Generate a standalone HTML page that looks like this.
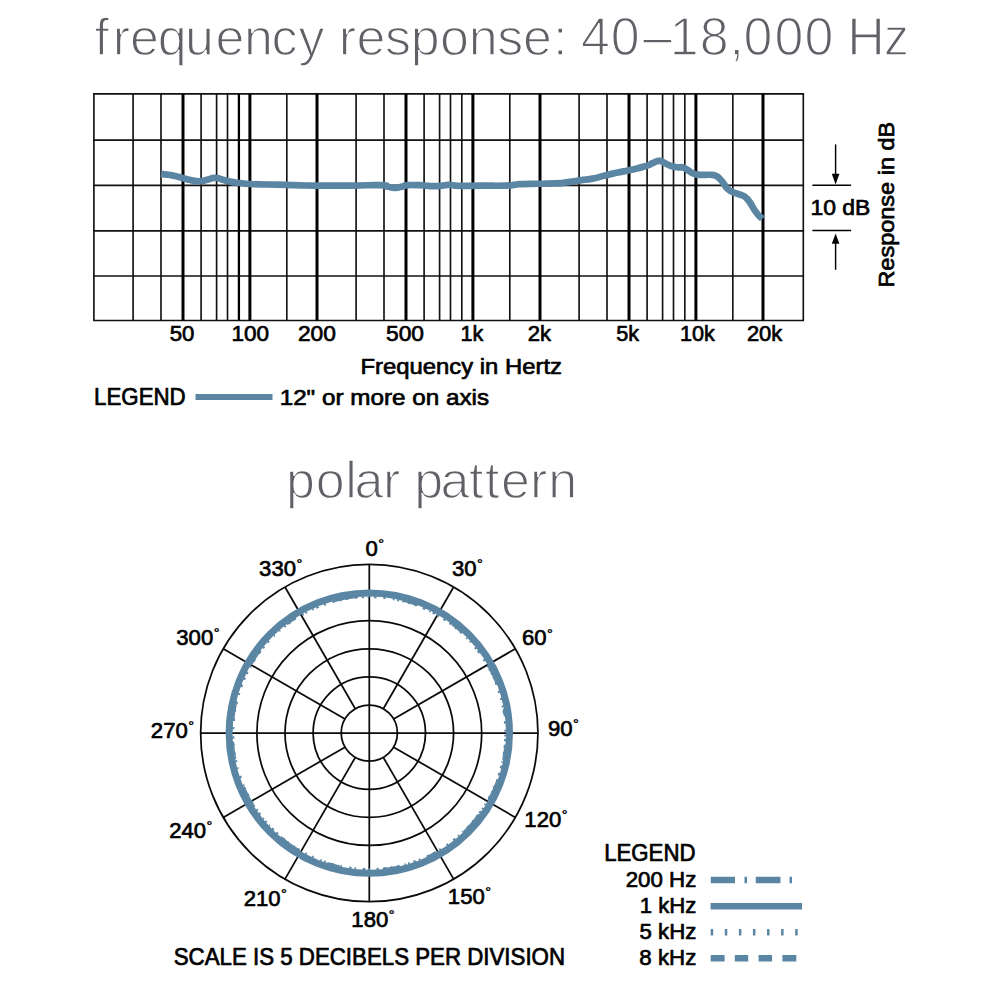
<!DOCTYPE html>
<html lang="en"><head><meta charset="utf-8"><title>frequency response and polar pattern</title>
<style>html,body{margin:0;padding:0;background:#fff}svg{display:block}</style></head>
<body><svg width="1000" height="1000" viewBox="0 0 1000 1000">
<rect width="1000" height="1000" fill="#fff"/>
<g stroke="#111" fill="none">
<line x1="93.15" y1="93.80" x2="804.05" y2="93.80" stroke-width="1.7"/>
<line x1="93.15" y1="140.10" x2="804.05" y2="140.10" stroke-width="1.7"/>
<line x1="93.15" y1="185.40" x2="804.05" y2="185.40" stroke-width="1.7"/>
<line x1="93.15" y1="230.80" x2="804.05" y2="230.80" stroke-width="1.7"/>
<line x1="93.15" y1="276.00" x2="804.05" y2="276.00" stroke-width="1.7"/>
<line x1="93.15" y1="320.50" x2="804.05" y2="320.50" stroke-width="1.7"/>
<line x1="93.90" y1="93.80" x2="93.90" y2="320.50" stroke-width="1.65"/>
<line x1="133.10" y1="93.80" x2="133.10" y2="320.50" stroke-width="1.65"/>
<line x1="161.00" y1="93.80" x2="161.00" y2="320.50" stroke-width="1.65"/>
<line x1="201.10" y1="93.80" x2="201.10" y2="320.50" stroke-width="1.65"/>
<line x1="216.60" y1="93.80" x2="216.60" y2="320.50" stroke-width="1.65"/>
<line x1="227.50" y1="93.80" x2="227.50" y2="320.50" stroke-width="1.65"/>
<line x1="286.80" y1="93.80" x2="286.80" y2="320.50" stroke-width="1.65"/>
<line x1="356.10" y1="93.80" x2="356.10" y2="320.50" stroke-width="1.65"/>
<line x1="384.00" y1="93.80" x2="384.00" y2="320.50" stroke-width="1.65"/>
<line x1="424.10" y1="93.80" x2="424.10" y2="320.50" stroke-width="1.65"/>
<line x1="439.60" y1="93.80" x2="439.60" y2="320.50" stroke-width="1.65"/>
<line x1="450.50" y1="93.80" x2="450.50" y2="320.50" stroke-width="1.65"/>
<line x1="461.80" y1="93.80" x2="461.80" y2="320.50" stroke-width="1.65"/>
<line x1="509.80" y1="93.80" x2="509.80" y2="320.50" stroke-width="1.65"/>
<line x1="579.10" y1="93.80" x2="579.10" y2="320.50" stroke-width="1.65"/>
<line x1="607.00" y1="93.80" x2="607.00" y2="320.50" stroke-width="1.65"/>
<line x1="647.10" y1="93.80" x2="647.10" y2="320.50" stroke-width="1.65"/>
<line x1="662.60" y1="93.80" x2="662.60" y2="320.50" stroke-width="1.65"/>
<line x1="673.50" y1="93.80" x2="673.50" y2="320.50" stroke-width="1.65"/>
<line x1="684.80" y1="93.80" x2="684.80" y2="320.50" stroke-width="1.65"/>
<line x1="732.80" y1="93.80" x2="732.80" y2="320.50" stroke-width="1.65"/>
<line x1="803.30" y1="93.80" x2="803.30" y2="320.50" stroke-width="1.65"/>
<line x1="238.90" y1="93.80" x2="238.90" y2="320.50" stroke-width="2.3" stroke="#000"/>
<line x1="183.00" y1="93.80" x2="183.00" y2="320.50" stroke-width="3.0" stroke="#000"/>
<line x1="249.90" y1="93.80" x2="249.90" y2="320.50" stroke-width="3.0" stroke="#000"/>
<line x1="317.00" y1="93.80" x2="317.00" y2="320.50" stroke-width="3.0" stroke="#000"/>
<line x1="406.00" y1="93.80" x2="406.00" y2="320.50" stroke-width="3.0" stroke="#000"/>
<line x1="472.90" y1="93.80" x2="472.90" y2="320.50" stroke-width="3.0" stroke="#000"/>
<line x1="540.00" y1="93.80" x2="540.00" y2="320.50" stroke-width="3.0" stroke="#000"/>
<line x1="629.00" y1="93.80" x2="629.00" y2="320.50" stroke-width="3.0" stroke="#000"/>
<line x1="695.90" y1="93.80" x2="695.90" y2="320.50" stroke-width="3.0" stroke="#000"/>
<line x1="763.00" y1="93.80" x2="763.00" y2="320.50" stroke-width="3.0" stroke="#000"/>
</g>
<path d="M161.00,174.00 C163.00,174.20 162.67,174.00 167.00,174.60 C171.33,175.20 169.67,174.93 174.00,175.80 C178.33,176.67 176.00,176.13 180.00,177.20 C184.00,178.27 182.00,177.93 186.00,179.00 C190.00,180.07 188.33,179.70 192.00,180.40 C195.67,181.10 193.67,180.90 197.00,181.10 C200.33,181.30 198.33,181.53 202.00,181.00 C205.67,180.47 203.67,180.57 208.00,179.50 C212.33,178.43 210.33,177.80 215.00,177.80 C219.67,177.80 217.00,178.23 222.00,179.50 C227.00,180.77 224.00,180.43 230.00,181.60 C236.00,182.77 233.33,182.20 240.00,183.00 C246.67,183.80 240.67,183.50 250.00,184.00 C259.33,184.50 256.00,184.23 268.00,184.50 C280.00,184.77 275.33,184.53 286.00,184.80 C296.67,185.07 290.00,185.03 300.00,185.30 C310.00,185.57 299.33,185.50 316.00,185.60 C332.67,185.70 328.67,185.73 350.00,185.60 C371.33,185.47 367.33,184.80 380.00,185.20 C392.67,185.60 383.00,185.93 388.00,186.80 C393.00,187.67 390.33,187.87 395.00,187.80 C399.67,187.73 397.67,187.47 402.00,186.60 C406.33,185.73 402.00,185.67 408.00,185.20 C414.00,184.73 413.33,185.00 420.00,185.20 C426.67,185.40 422.67,185.47 428.00,185.80 C433.33,186.13 431.33,186.27 436.00,186.20 C440.67,186.13 438.00,186.03 442.00,185.60 C446.00,185.17 444.00,184.97 448.00,184.90 C452.00,184.83 450.00,185.10 454.00,185.40 C458.00,185.70 451.33,185.70 460.00,185.80 C468.67,185.90 464.67,185.77 480.00,185.70 C495.33,185.63 494.67,185.90 506.00,185.60 C517.33,185.30 509.33,185.27 514.00,184.80 C518.67,184.33 514.67,184.50 520.00,184.20 C525.33,183.90 518.33,184.17 530.00,183.90 C541.67,183.63 542.33,183.97 555.00,183.40 C567.67,182.83 559.67,183.20 568.00,182.20 C576.33,181.20 571.83,181.60 580.00,180.40 C588.17,179.20 584.17,180.27 592.50,178.60 C600.83,176.93 596.50,177.43 605.00,175.40 C613.50,173.37 609.67,174.30 618.00,172.50 C626.33,170.70 621.00,172.07 630.00,170.00 C639.00,167.93 637.50,168.57 645.00,166.30 C652.50,164.03 648.67,164.83 652.50,163.20 C656.33,161.57 654.17,162.20 656.50,161.40 C658.83,160.60 657.50,160.67 659.50,160.80 C661.50,160.93 660.00,160.67 662.50,161.80 C665.00,162.93 663.50,162.60 667.00,164.20 C670.50,165.80 669.17,165.57 673.00,166.60 C676.83,167.63 674.83,166.90 678.50,167.30 C682.17,167.70 680.17,166.37 684.00,167.80 C687.83,169.23 686.67,169.63 690.00,171.60 C693.33,173.57 691.33,172.67 694.00,173.70 C696.67,174.73 694.33,174.33 698.00,174.70 C701.67,175.07 700.33,174.73 705.00,174.80 C709.67,174.87 708.33,174.50 712.00,174.90 C715.67,175.30 713.33,174.63 716.00,176.00 C718.67,177.37 717.33,176.33 720.00,179.00 C722.67,181.67 721.50,180.75 724.00,184.00 C726.50,187.25 724.25,185.92 727.50,188.75 C730.75,191.58 728.75,190.25 733.75,192.50 C738.75,194.75 738.25,193.57 742.50,195.50 C746.75,197.43 744.00,195.97 746.50,198.30 C749.00,200.63 746.75,197.77 750.00,202.50 C753.25,207.23 752.08,207.08 756.25,212.50 C760.42,217.92 760.42,216.67 762.50,218.75" fill="none" stroke="#5b86a3" stroke-width="6.7" stroke-linejoin="round" stroke-linecap="butt"/>
<g stroke="#000" stroke-width="1.45" fill="#000">
<line x1="812.4" y1="185.3" x2="851.1" y2="185.3"/>
<line x1="812.4" y1="230.5" x2="851.1" y2="230.5"/>
<line x1="835.6" y1="144.4" x2="835.6" y2="175"/>
<line x1="835.6" y1="243" x2="835.6" y2="269.8"/>
<path d="M835.6,184.4 L831.8,173.8 L839.4,173.8 Z" stroke="none"/>
<path d="M835.6,233.6 L831.8,243.8 L839.4,243.8 Z" stroke="none"/>
</g>
<g font-family="Liberation Sans, Arial, Helvetica, sans-serif" fill="#000" stroke="#000" stroke-width="0.7" stroke-linejoin="round">
<text transform="translate(169.71,341.1) scale(0.9732,1)" font-size="22.8">50</text>
<text transform="translate(231.52,341.1) scale(0.9889,1)" font-size="22.8">100</text>
<text transform="translate(297.88,341.1) scale(1.0000,1)" font-size="22.8">200</text>
<text transform="translate(386.00,341.1) scale(1.0000,1)" font-size="22.8">500</text>
<text transform="translate(460.53,341.1) scale(0.9500,1)" font-size="22.8">1k</text>
<text transform="translate(527.67,341.1) scale(0.9667,1)" font-size="22.8">2k</text>
<text transform="translate(616.31,341.1) scale(0.9500,1)" font-size="22.8">5k</text>
<text transform="translate(679.99,341.1) scale(0.9500,1)" font-size="22.8">10k</text>
<text transform="translate(746.88,341.1) scale(0.9644,1)" font-size="22.8">20k</text>
<text transform="translate(360.43,373.9) scale(1.0473,1)" font-size="22.8">Frequency in Hertz</text>
<text transform="translate(94.03,405.0) scale(0.9781,1.025)" font-size="22.8">LEGEND</text>
<text transform="translate(279.65,405.0) scale(1.0641,1)" font-size="22.8">12&quot; or more on axis</text>
<text transform="translate(810.49,215.2) scale(1.0061,1)" font-size="22.8">10 dB</text>
<text transform="translate(173.72,965.0) scale(0.9775,1.025)" font-size="22.8">SCALE IS 5 DECIBELS PER DIVISION</text>
<text transform="translate(604.14,861.2) scale(0.9749,1.025)" font-size="22.8">LEGEND</text>
<text transform="translate(625.67,887.2) scale(0.9781,1)" font-size="22.8">200 Hz</text>
<text transform="translate(639.74,913.2) scale(0.9714,1)" font-size="22.8">1 kHz</text>
<text transform="translate(639.51,939.4) scale(0.9754,1)" font-size="22.8">5 kHz</text>
<text transform="translate(639.27,965.2) scale(0.9797,1)" font-size="22.8">8 kHz</text>
<text transform="translate(893.7,287.60) rotate(-90) scale(1.0680,1)" font-size="22.0">Response in dB</text>
</g>
<line x1="195.5" y1="397" x2="272.5" y2="397" stroke="#5b86a3" stroke-width="6.2"/>
<g font-family="Liberation Sans, Arial, Helvetica, sans-serif" fill="#5f6166" stroke="#fff" stroke-width="1.4" paint-order="fill stroke" font-size="52">
<text x="94.4 112.7 130.0 157.8 185.1 215.4 244.0 271.6 298.5 324.5 338.7 356.6 385.1 410.7 440.1 468.8 497.2 522.9 553.0" y="55">frequency response:</text>
<text transform="translate(0,55.2) scale(1,1.045)" x="581.0 610.8 642.9 669.8 699.7 729.5 743.5 774.5 804.5 830.5 847.2" y="0">40–18,000 H<tspan x="884.0" font-size="49.8">z</tspan></text>
<text x="286.0 315.8 345.2 354.4 383.0 409.0 414.2 440.4 469.1 485.1 500.9 530.0 548.2" y="497.6">polar pattern</text>
</g>
<g stroke="#0a0a0a" stroke-width="1.75" fill="none">
<circle cx="369.3" cy="733.1" r="28.1"/>
<circle cx="369.3" cy="733.1" r="56.2"/>
<circle cx="369.3" cy="733.1" r="84.3"/>
<circle cx="369.3" cy="733.1" r="112.4"/>
<circle cx="369.3" cy="733.1" r="140.5"/>
<circle cx="369.3" cy="733.1" r="168.65"/>
<line x1="369.30" y1="733.10" x2="369.30" y2="564.45"/>
<line x1="383.35" y1="708.76" x2="453.62" y2="587.04"/>
<line x1="393.64" y1="719.05" x2="515.36" y2="648.77"/>
<line x1="369.30" y1="733.10" x2="537.95" y2="733.10"/>
<line x1="393.64" y1="747.15" x2="515.36" y2="817.42"/>
<line x1="383.35" y1="757.44" x2="453.62" y2="879.16"/>
<line x1="369.30" y1="733.10" x2="369.30" y2="901.75"/>
<line x1="355.25" y1="757.44" x2="284.98" y2="879.16"/>
<line x1="344.96" y1="747.15" x2="223.24" y2="817.43"/>
<line x1="369.30" y1="733.10" x2="200.65" y2="733.10"/>
<line x1="344.96" y1="719.05" x2="223.24" y2="648.77"/>
<line x1="355.25" y1="708.76" x2="284.97" y2="587.04"/>
</g>
<circle cx="369.3" cy="733.1" r="140.2" fill="none" stroke="#5b86a3" stroke-width="7"/>
<circle cx="369.3" cy="733.1" r="136.0" fill="none" stroke="#5b86a3" stroke-width="2.0" stroke-dasharray="2.0 5.1 2.7 4.6 2.1 5.2 1.6 4.8 2.2 6.4 1.4 3.7 1.4 6.5 2.3 2.2 2.8 7.3 2.3 5.4 1.5 2.1 2.1 2.3 1.6 3.3 1.3 4.6 2.0 6.6 2.1 5.5 2.0 5.6 2.0 3.5 2.8 7.5 2.6 5.9 1.8 3.3 1.7 2.4 2.4 4.2 2.6 4.1 2.7 6.7 1.3 3.2 2.7 4.6 2.8 4.2 1.4 5.5 2.5 3.5 1.4 3.8 2.7 6.2 1.5 3.4 1.5 2.3 2.5 3.0 2.1 4.5 1.6 6.0 1.5 5.5 1.5 4.3 1.6 3.5 2.8 6.4 1.8 6.9 1.6 4.2 2.6 5.5 1.5 7.4 1.6 3.4 2.5 3.8 1.7 2.4 1.4 5.2 1.7 5.3 1.9 4.5 2.7 4.7 2.2 6.8 1.6 2.8 2.7 6.5 1.7 3.0 2.4 7.2 1.6 7.2 2.6 5.3 1.9 2.6 1.4 7.3 1.7 5.9 1.7 6.5 2.2 3.6 1.6 6.0 1.4 3.3 2.1 6.7 2.2 3.5 2.7 3.1 1.3 3.5 2.0 2.3 1.6 4.0 2.2 2.7 1.8 6.9 2.8 5.6 2.3 5.2 1.5 2.2 1.3 7.0 2.4 7.3 1.3 5.5 2.0 6.0 1.8 7.5 1.4 5.0 2.4 7.0 2.4 5.9 2.5 7.0 1.8 5.8 2.7 6.8 1.9 6.3 2.6 5.2 2.2 4.1 2.2 5.3 1.4 5.5 2.8 6.8 2.4 4.1 2.4 5.2 2.0 6.6 1.4 6.1 1.3 5.3 2.0 3.3 2.3 4.7 2.2 7.1 1.7 2.1 1.8 5.7 1.6 2.9 2.7 5.6 2.0 6.9 1.8 5.7 1.6 4.4 2.5 7.0 2.6 4.1 2.2 3.7 1.5 4.7 2.6 6.7 2.4 7.2 1.7 2.9 2.0 3.5 1.6 4.3 2.2 4.7 1.8 6.6 2.8 4.5 1.4 2.2 2.6 2.2 2.4 5.1 1.8 6.4 1.3 2.7 2.0 2.1 2.5 3.3 1.5 2.3 2.2 4.5 2.2 5.6 2.5 7.3 2.3 3.1 2.0 3.0 1.3 4.6 2.4 3.0 1.7 3.9 2.3 4.9 2.2 6.2 1.9 6.4" transform="rotate(-60 369.3 733.1)"/>
<circle cx="369.3" cy="733.1" r="136.3" fill="none" stroke="#5b86a3" stroke-width="1.5" stroke-dasharray="22.3 16.8 22.8 37.1 8.3 28.5 17.3 43.1 12.8 32.2 21.8 39.5 23.0 28.8 17.7 20.6 19.0 40.2 17.5 37.0 9.8 42.8 23.6 45.3 15.7 39.3 11.8 43.1 21.4 25.2 7.5 28.1 15.9 38.6 14.8 14.9 20.6 16.0 20.4 19.5 12.0 39.2 8.5 18.8 15.3 37.2 21.1 36.1 23.0 29.8 23.1 16.8 10.0 30.9 11.2 37.3 17.5 30.7 21.2 31.9 11.6 26.2 21.2 42.8 9.7 41.2 23.4 30.8 16.3 20.4 15.6 30.1 16.9 14.9 23.4 30.5 13.2 39.6 16.1 29.7" transform="rotate(20 369.3 733.1)"/>
<g font-family="Liberation Sans, Arial, Helvetica, sans-serif" fill="#000" stroke="#000" stroke-width="0.7" stroke-linejoin="round">
<text transform="translate(365.47,555.5) scale(0.9700,1)" font-size="22.8">0<tspan font-size="15" dy="-6.7" dx="0.5" stroke-width="0.45">&#176;</tspan></text>
<text transform="translate(451.90,575.5) scale(0.9700,1)" font-size="22.8">30<tspan font-size="15" dy="-6.7" dx="0.5" stroke-width="0.45">&#176;</tspan></text>
<text transform="translate(521.98,645.2) scale(0.9700,1)" font-size="22.8">60<tspan font-size="15" dy="-6.7" dx="0.5" stroke-width="0.45">&#176;</tspan></text>
<text transform="translate(547.93,735.6) scale(0.9700,1)" font-size="22.8">90<tspan font-size="15" dy="-6.7" dx="0.5" stroke-width="0.45">&#176;</tspan></text>
<text transform="translate(524.34,826.6) scale(0.9700,1)" font-size="22.8">120<tspan font-size="15" dy="-6.7" dx="0.5" stroke-width="0.45">&#176;</tspan></text>
<text transform="translate(447.83,903.6) scale(0.9700,1)" font-size="22.8">150<tspan font-size="15" dy="-6.7" dx="0.5" stroke-width="0.45">&#176;</tspan></text>
<text transform="translate(351.33,926.5) scale(0.9700,1)" font-size="22.8">180<tspan font-size="15" dy="-6.7" dx="0.5" stroke-width="0.45">&#176;</tspan></text>
<text transform="translate(243.70,906.0) scale(0.9700,1)" font-size="22.8">210<tspan font-size="15" dy="-6.7" dx="0.5" stroke-width="0.45">&#176;</tspan></text>
<text transform="translate(169.15,837.7) scale(0.9700,1)" font-size="22.8">240<tspan font-size="15" dy="-6.7" dx="0.5" stroke-width="0.45">&#176;</tspan></text>
<text transform="translate(150.85,738.0) scale(0.9700,1)" font-size="22.8">270<tspan font-size="15" dy="-6.7" dx="0.5" stroke-width="0.45">&#176;</tspan></text>
<text transform="translate(176.32,645.1) scale(0.9700,1)" font-size="22.8">300<tspan font-size="15" dy="-6.7" dx="0.5" stroke-width="0.45">&#176;</tspan></text>
<text transform="translate(259.09,575.8) scale(0.9700,1)" font-size="22.8">330<tspan font-size="15" dy="-6.7" dx="0.5" stroke-width="0.45">&#176;</tspan></text>
</g>
<g stroke="#5b86a3" stroke-width="6.4" fill="none">
<path d="M710.75,880 H735 M744.5,880 H747 M755.75,880 H780.5 M789.5,880 H792"/>
<path d="M710.6,906.3 H802"/>
<path d="M710.7,932.3 H798" stroke-dasharray="2.5 11.58"/>
<path d="M710.7,958.2 H724.6 M734.8,958.2 H748.2 M758.6,958.2 H772.1 M782.4,958.2 H796.3"/>
</g>
</svg></body></html>
